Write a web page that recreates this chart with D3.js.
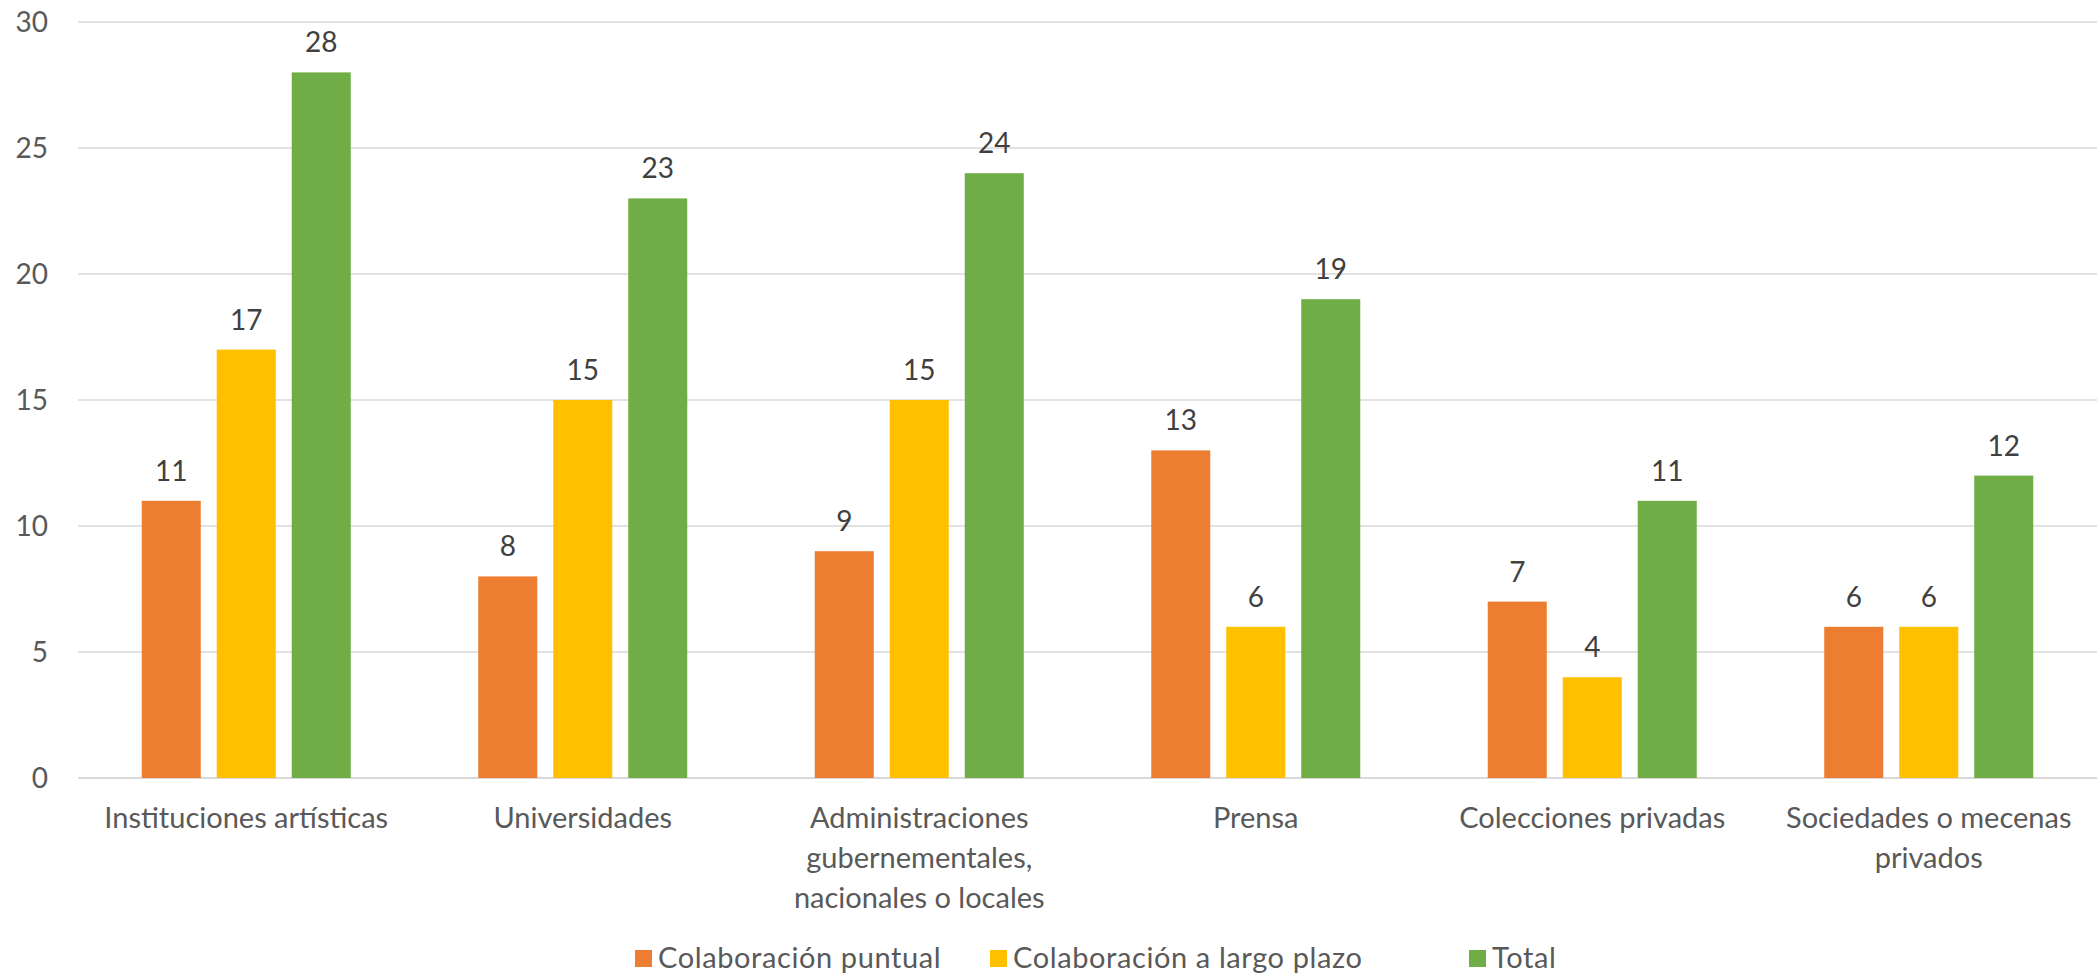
<!DOCTYPE html>
<html>
<head>
<meta charset="utf-8">
<script src="https://cdn.jsdelivr.net/npm/d3@7"></script>
<style>
  body { margin: 0; background: #fff; }
  svg { display: block; font-family: Lato, "Open Sans", sans-serif; }
</style>
</head>
<body>
<div id="chart"></div>
<script>
// categories (one entry per line of the axis label)
const categories = [
  ["Instituciones artísticas"],
  ["Universidades"],
  ["Administraciones", "gubernementales,", "nacionales o locales"],
  ["Prensa"],
  ["Colecciones privadas"],
  ["Sociedades o mecenas", "privados"]
];
const seriesNames = ["Colaboración puntual", "Colaboración a largo plazo", "Total"];
const puntual = [11, 8, 9, 13, 7, 6];
const largoPlazo = [17, 15, 15, 6, 4, 6];
const total = [28, 23, 24, 19, 11, 12];
const yTicks = [0, 5, 10, 15, 20, 25, 30];
const colors = ["#ED7D31", "#FFC000", "#70AD47"];

const seriesValues = [puntual, largoPlazo, total];

const width = 2097, height = 976;
const margin = { top: 22, right: 0, bottom: 198, left: 78 };

const svg = d3.select("#chart").append("svg")
  .attr("width", width)
  .attr("height", height);

const x0 = d3.scaleBand()
  .domain(d3.range(categories.length))
  .range([margin.left, width - margin.right])
  .padding(0);

const x1 = d3.scaleBand()
  .domain(d3.range(seriesNames.length))
  .range([0, x0.bandwidth()])
  .paddingInner(0.213)
  .paddingOuter(0.85);

const y = d3.scaleLinear()
  .domain([0, 30])
  .range([height - margin.bottom, margin.top]);

// gridlines
svg.append("g")
  .selectAll("line")
  .data(yTicks)
  .join("line")
  .attr("x1", margin.left)
  .attr("x2", width - margin.right)
  .attr("y1", d => y(d))
  .attr("y2", d => y(d))
  .attr("stroke", "#d9d9d9")
  .attr("stroke-width", d => d === 0 ? 2 : 1.5);

// y tick labels
svg.append("g")
  .selectAll("text")
  .data(yTicks)
  .join("text")
  .attr("x", 48)
  .attr("y", d => y(d))
  .attr("dy", "0.36em")
  .attr("text-anchor", "end")
  .attr("fill", "#595959")
  .attr("font-size", 28)
  .text(d => d);

// bars + labels
const groups = svg.append("g")
  .selectAll("g")
  .data(categories.map((c, i) => i))
  .join("g")
  .attr("transform", i => `translate(${x0(i)},0)`);

groups.selectAll("rect")
  .data(i => seriesValues.map((s, k) => ({ k, v: s[i] })))
  .join("rect")
  .attr("x", d => x1(d.k))
  .attr("width", x1.bandwidth())
  .attr("y", d => y(d.v))
  .attr("height", d => y(0) - y(d.v))
  .attr("fill", d => colors[d.k]);

groups.selectAll("text.lbl")
  .data(i => seriesValues.map((s, k) => ({ k, v: s[i] })))
  .join("text")
  .attr("class", "lbl")
  .attr("x", d => x1(d.k) + x1.bandwidth() / 2)
  .attr("y", d => y(d.v) - 20)
  .attr("text-anchor", "middle")
  .attr("fill", "#404040")
  .attr("font-size", 28)
  .text(d => d.v);

// category labels
const catLabels = svg.append("g")
  .selectAll("text")
  .data(categories)
  .join("text")
  .attr("x", (d, i) => x0(i) + x0.bandwidth() / 2)
  .attr("y", 818)
  .attr("text-anchor", "middle")
  .attr("fill", "#595959")
  .attr("font-size", 29);

catLabels.selectAll("tspan")
  .data(d => d)
  .join("tspan")
  .attr("x", function () { return this.parentNode.getAttribute("x"); })
  .attr("dy", (d, j) => j === 0 ? "0.36em" : 40)
  .text(d => d);

// legend
const legendX = [635, 990, 1469];
const legend = svg.append("g")
  .selectAll("g")
  .data(seriesNames)
  .join("g")
  .attr("transform", (d, i) => `translate(${legendX[i]},958)`);

legend.append("rect")
  .attr("x", 0)
  .attr("y", -8)
  .attr("width", 17)
  .attr("height", 17)
  .attr("fill", (d, i) => colors[i]);

legend.append("text")
  .attr("x", 23)
  .attr("y", 0)
  .attr("dy", "0.36em")
  .attr("fill", "#595959")
  .attr("font-size", 29)
  .attr("letter-spacing", 0.6)
  .text(d => d);
</script>
</body>
</html>
